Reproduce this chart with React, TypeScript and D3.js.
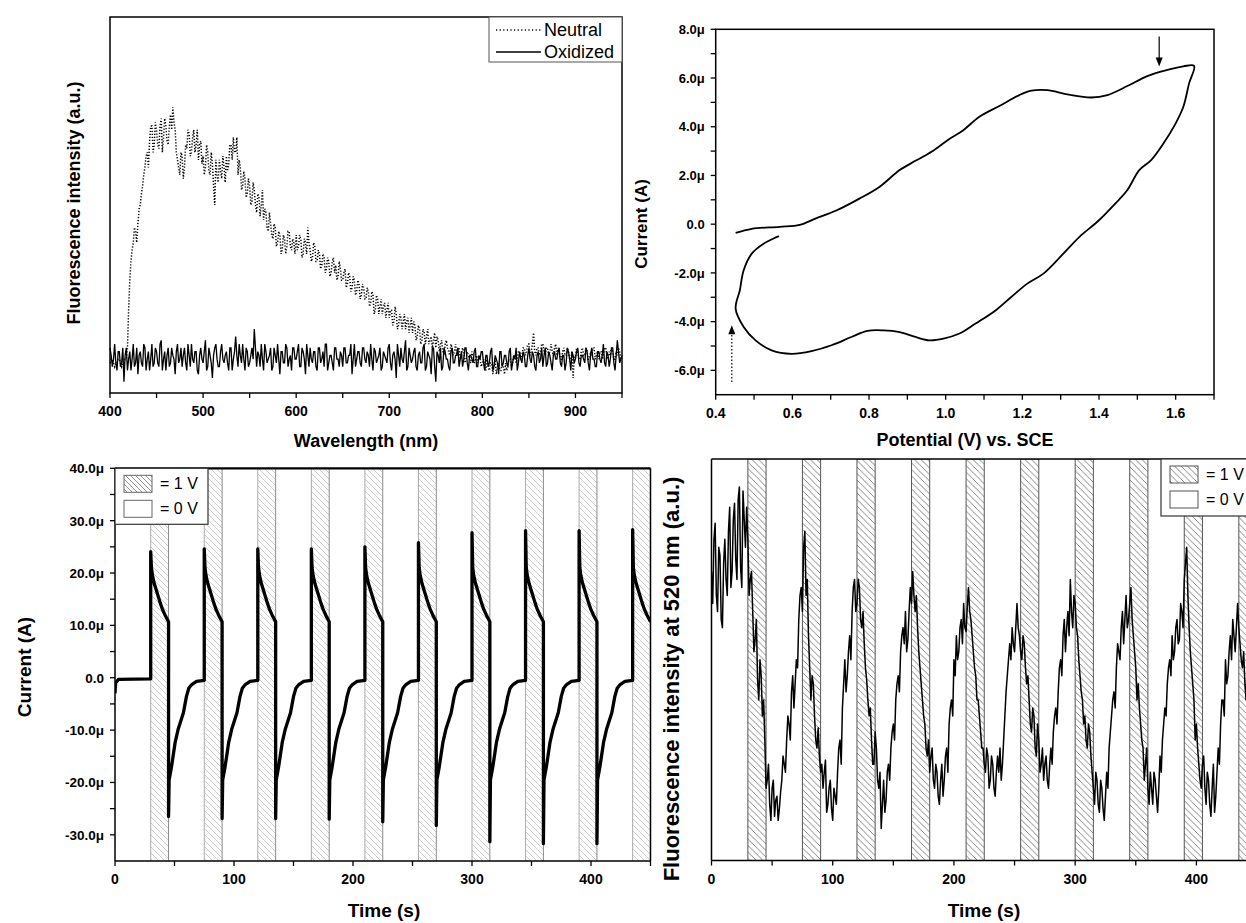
import React from "react";
import * as d3 from "d3";

const FONT = "'Liberation Sans', Arial, Helvetica, sans-serif";

// ---------- Panel A: fluorescence spectra (values at 400, 402.5, ...; B arrays at 401.25, 403.75, ...) ----------
const wlStart = 400;
const wlStep = 1.25;
const neutral = [
  8, 9, 7, 8, 9, 7, 8, 9, 22, 35,
  40, 43, 45, 50, 55, 60, 64, 67, 71, 66,
  70, 65, 73, 68, 71, 66, 74, 76, 70, 62,
  58, 63, 60, 65, 69, 64, 70, 66, 62, 67,
  63, 60, 64, 58, 61, 50, 58, 62, 57, 60,
  63, 61, 66, 68, 64, 58, 60, 55, 57, 53,
  55, 51, 54, 48, 52, 50, 46, 48, 43, 45,
  41, 44, 40, 42, 38, 41, 39, 43, 38, 40,
  42, 39, 41, 37, 40, 44, 38, 36, 39, 35,
  37, 34, 36, 33, 35, 32, 36, 34, 31, 33,
  30, 33, 29, 31, 28, 30, 27, 29, 26, 28,
  25, 27, 24, 26, 22, 25, 23, 21, 24, 22,
  20, 22, 19, 21, 18, 20, 19, 17, 20, 18,
  16, 18, 15, 17, 14, 16, 15, 13, 15, 14,
  12, 14, 13, 11, 13, 12, 10, 12, 11, 10,
  12, 10, 11, 9, 10, 8, 10, 9, 8, 9,
  8, 7, 9, 6, 8, 7, 5, 8, 6, 7,
  8, 7, 9, 8, 10, 9, 11, 10, 12, 11,
  13, 11, 16, 10, 12, 11, 13, 10, 12, 11,
  11, 12, 10, 11, 9, 12, 10, 11, 9, 4,
  10, 11, 9, 12, 10, 11, 9, 10, 12, 10,
  9, 11, 10, 12, 9, 10, 11, 9, 10, 11,
  10,
];
const neutralB = [
  9, 8, 8, 9, 8, 8, 9, 12, 30, 38,
  44, 40, 49, 53, 58, 63, 60, 71, 64, 72,
  66, 71, 64, 73, 67, 71, 70, 72, 64, 60,
  64, 57, 66, 70, 63, 68, 64, 70, 66, 61,
  58, 66, 59, 64, 55, 62, 56, 59, 63, 56,
  59, 66, 62, 64, 68, 62, 54, 59, 52, 57,
  50, 56, 50, 53, 47, 54, 49, 44, 48, 42,
  45, 39, 43, 37, 42, 37, 43, 39, 41, 37,
  38, 42, 36, 41, 37, 40, 35, 40, 35, 38,
  33, 37, 32, 36, 31, 35, 32, 30, 35, 30,
  32, 28, 32, 27, 31, 26, 30, 25, 29, 25,
  28, 23, 27, 21, 26, 21, 25, 23, 20, 24,
  22, 18, 23, 17, 21, 17, 21, 19, 16, 20,
  19, 14, 18, 13, 17, 13, 17, 14, 12, 16,
  15, 11, 14, 10, 14, 11, 13, 10, 13, 12,
  9, 12, 8, 11, 9, 11, 8, 10, 10, 7,
  9, 6, 7, 8, 5, 9, 7, 6, 8, 5,
  6, 9, 7, 10, 8, 11, 9, 12, 10, 13,
  10, 13, 11, 12, 10, 13, 11, 12, 10, 13,
  10, 13, 12, 9, 11, 10, 12, 9, 11, 10,
  12, 9, 11, 10, 12, 9, 11, 12, 9, 11,
  11, 9, 12, 10, 11, 12, 9, 11, 12, 9,
];
const oxidized = [
  12, 7, 13, 6, 11, 8, 3, 12, 9, 6,
  13, 8, 5, 11, 7, 12, 9, 6, 13, 8,
  11, 7, 14, 9, 6, 12, 8, 10, 5, 13,
  9, 7, 12, 6, 10, 13, 8, 11, 5, 12,
  8, 14, 7, 10, 4, 12, 9, 7, 13, 8,
  11, 6, 12, 9, 15, 7, 10, 13, 6, 11,
  8, 12, 17, 7, 10, 13, 6, 11, 9, 12,
  7, 10, 13, 5, 11, 8, 12, 9, 6, 12,
  9, 13, 7, 11, 5, 10, 12, 8, 11, 6,
  12, 9, 7, 13, 8, 10, 6, 12, 9, 11,
  7, 12, 8, 10, 5, 13, 9, 11, 7, 12,
  8, 10, 13, 6, 11, 9, 12, 7, 10, 8,
  13, 6, 11, 4, 10, 12, 8, 14, 7, 10,
  9, 12, 6, 11, 8, 13, 7, 10, 5, 12,
  3, 10, 12, 7, 11, 9, 6, 12, 8, 10,
  7, 11, 9, 12, 6, 10, 8, 12, 7, 9,
  11, 6, 10, 8, 12, 7, 9, 5, 11, 8,
  10, 7, 12, 8, 9, 6, 11, 8, 10, 7,
  12, 8, 10, 6, 11, 9, 7, 12, 8, 10,
  6, 11, 9, 12, 7, 10, 8, 11, 6, 10,
  9, 12, 7, 10, 8, 11, 6, 12, 9, 7,
  11, 8, 13, 7, 10, 9, 12, 6, 14, 8,
  10,
];
const oxidizedB = [
  10, 9, 8, 11, 7, 12, 10, 6, 11, 9,
  7, 12, 10, 8, 13, 6, 11, 9, 7, 12,
  8, 13, 6, 11, 10, 7, 12, 9, 11, 8,
  12, 10, 8, 13, 7, 9, 11, 6, 10, 9,
  11, 6, 12, 8, 10, 13, 7, 11, 9, 10,
  8, 12, 6, 11, 10, 13, 8, 9, 12, 7,
  10, 9, 12, 11, 7, 9, 13, 8, 10, 6,
  12, 8, 9, 11, 8, 13, 7, 10, 12, 9,
  11, 7, 12, 9, 13, 7, 9, 11, 7, 12,
  8, 11, 13, 6, 10, 8, 12, 9, 7, 10,
  12, 8, 10, 13, 9, 7, 11, 8, 12, 9,
  11, 7, 9, 12, 8, 10, 6, 11, 9, 12,
  8, 10, 9, 13, 7, 9, 11, 6, 12, 8,
  11, 7, 10, 8, 12, 6, 11, 9, 12, 7,
  11, 8, 6, 12, 9, 7, 11, 8, 10, 12,
  9, 7, 12, 8, 10, 9, 11, 7, 10, 11,
  8, 10, 7, 11, 6, 10, 8, 11, 7, 10,
  8, 11, 6, 10, 12, 8, 9, 11, 7, 10,
  9, 11, 7, 10, 8, 12, 10, 7, 11, 8,
  10, 9, 11, 8, 10, 6, 12, 9, 11, 8,
  11, 8, 10, 9, 12, 8, 10, 9, 7, 11,
  9, 10, 8, 11, 7, 12, 8, 10, 11, 9,
];
const aXMajor = [400, 500, 600, 700, 800, 900];
const aXMinor = [450, 550, 650, 750, 850, 950];

// ---------- Panel B: cyclic voltammogram ----------
const cvV = [
  0.452, 0.494, 0.567, 0.619, 0.66, 0.713, 0.775, 0.827, 0.88, 0.921, 0.963, 1.005, 1.046, 1.088,
  1.14, 1.192, 1.224, 1.265, 1.317, 1.38, 1.422, 1.474, 1.526, 1.578, 1.62, 1.648,
  1.635, 1.62, 1.6, 1.568, 1.536, 1.505, 1.474, 1.443, 1.4, 1.349, 1.307, 1.255, 1.213, 1.171,
  1.13, 1.078, 1.036, 0.994, 0.958, 0.921, 0.88, 0.838, 0.796, 0.754, 0.702, 0.65, 0.598,
  0.546, 0.504, 0.473, 0.452, 0.463, 0.473, 0.494, 0.525, 0.565,
];
const cvI = [
  -0.36, -0.19, -0.11, -0.03, 0.23, 0.55, 1.05, 1.53, 2.22, 2.6, 2.97, 3.45, 3.86, 4.41,
  4.85, 5.3, 5.48, 5.5, 5.33, 5.2, 5.3, 5.67, 6.08, 6.33, 6.48, 6.5,
  5.78, 4.82, 4.14, 3.31, 2.63, 2.22, 1.4, 0.85, 0.16, -0.52, -1.21, -2.03, -2.44, -2.99,
  -3.54, -4.08, -4.49, -4.7, -4.77, -4.63, -4.43, -4.36, -4.38, -4.63, -4.97, -5.21, -5.32,
  -5.18, -4.77, -4.22, -3.47, -2.71, -1.89, -1.21, -0.8, -0.49,
];
const bXMajor = [0.4, 0.6, 0.8, 1.0, 1.2, 1.4, 1.6];
const bXMinor = [0.5, 0.7, 0.9, 1.1, 1.3, 1.5, 1.7];
const bYMajor = [8, 6, 4, 2, 0, -2, -4, -6];
const bYLabels = ["8.0μ", "6.0μ", "4.0μ", "2.0μ", "0.0", "-2.0μ", "-4.0μ", "-6.0μ"];
const bYMinor = [7, 5, 3, 1, -1, -3, -5];
const arrowDown = { v: 1.557, from: 7.7, to: 6.47 };
const arrowUp = { v: 0.442, from: -6.48, to: -4.15 };

// ---------- Panel C: chronoamperometry ----------
const initT = [0, 0.5, 3, 30];
const initI = [-3, -1, -0.3, -0.2];
const cycleStarts = [30, 75, 120, 165, 210, 255, 300, 345, 390, 435];
const cyclePeaks = [24.1, 24.6, 24.6, 24.6, 25, 25.8, 27.7, 28.1, 28.1, 28.3];
const cycleMins = [-26.5, -26.9, -26.9, -27, -27.5, -28.2, -31.3, -31.7, -31.7];
const oxT = [0.6, 1.5, 3, 5, 8, 10, 12, 15];
const oxI = [21, 19.5, 18, 16.5, 14.3, 13, 12, 10.7];
const redT = [15.5, 17.5, 20.5, 23, 27.5, 30, 32, 34.5, 38.5, 45];
const redI = [-19.5, -17, -12.4, -9.9, -6.7, -3.6, -2, -1.3, -0.7, -0.5];
const bandWidth = 15;
const tMajor = [0, 100, 200, 300, 400];
const tMinor = [50, 150, 250, 350, 450];
const cYMajor = [40, 30, 20, 10, 0, -10, -20, -30];
const cYLabels = ["40.0μ", "30.0μ", "20.0μ", "10.0μ", "0.0", "-10.0μ", "-20.0μ", "-30.0μ"];
const cYMinor = [35, 25, 15, 5, -5, -15, -25];

// ---------- Panel D: fluorescence at 520 nm vs time (even seconds / odd seconds) ----------
const flEven = [
  72, 80, 66, 78, 60, 74, 70, 82, 68, 85,
  75, 90, 73, 92, 78, 80, 70, 62, 55, 45,
  50, 36, 30, 20, 14, 18, 11, 16, 13, 20,
  24, 30, 34, 42, 38, 50, 60, 68, 78, 66,
  56, 40, 44, 30, 33, 22, 18, 25, 14, 20,
  10, 16, 22, 30, 38, 50, 46, 56, 62, 70,
  64, 68, 58, 54, 45, 36, 30, 24, 28, 18,
  8, 20, 15, 24, 28, 34, 40, 46, 52, 58,
  62, 55, 68, 72, 62, 58, 48, 40, 34, 26,
  22, 28, 18, 22, 14, 24, 20, 28, 34, 40,
  50, 56, 52, 60, 64, 57, 68, 60, 52, 46,
  40, 32, 28, 22, 26, 20, 24, 16, 26, 28,
  24, 36, 46, 54, 58, 52, 64, 56, 50, 54,
  44, 40, 32, 36, 26, 30, 24, 20, 26, 18,
  28, 32, 38, 42, 50, 56, 52, 62, 70, 58,
  64, 56, 46, 40, 36, 28, 32, 22, 14, 20,
  12, 18, 10, 22, 28, 36, 42, 48, 52, 58,
  54, 66, 60, 68, 56, 48, 44, 34, 28, 24,
  18, 22, 14, 20, 12, 26, 30, 38, 44, 50,
  56, 52, 60, 55, 62, 70, 78, 58, 48, 40,
  34, 24, 18, 26, 14, 20, 11, 24, 16, 28,
  34, 40, 50, 46, 56, 60, 52, 64, 54, 48,
  44, 50, 38, 32, 36, 30,
];
const flOdd = [
  64, 84, 62, 76, 58, 80, 66, 88, 72, 89,
  70, 93, 68, 85, 88, 66, 72, 52, 60, 40,
  46, 40, 18, 24, 10, 20, 15, 10, 17, 26,
  22, 36, 30, 46, 44, 48, 66, 62, 82, 70,
  48, 46, 36, 28, 26, 24, 22, 12, 18, 13,
  18, 14, 28, 24, 44, 42, 52, 50, 68, 62,
  70, 60, 62, 48, 40, 38, 24, 32, 20, 22,
  14, 12, 22, 20, 32, 30, 44, 42, 56, 54,
  52, 62, 64, 66, 66, 52, 44, 36, 28, 30,
  26, 20, 24, 16, 20, 16, 26, 22, 38, 36,
  46, 50, 58, 54, 58, 63, 62, 56, 48, 40,
  36, 28, 24, 28, 18, 26, 18, 22, 22, 20,
  30, 42, 50, 50, 54, 58, 58, 52, 56, 48,
  46, 34, 38, 28, 34, 22, 28, 24, 20, 24,
  24, 36, 34, 48, 46, 60, 58, 56, 62, 66,
  58, 50, 42, 34, 30, 34, 26, 18, 22, 14,
  20, 13, 16, 18, 32, 40, 38, 54, 50, 62,
  60, 58, 64, 60, 52, 40, 38, 30, 20, 28,
  14, 18, 22, 16, 18, 22, 34, 36, 48, 46,
  50, 58, 54, 64, 58, 74, 66, 52, 44, 30,
  28, 20, 24, 18, 22, 14, 18, 12, 22, 24,
  40, 36, 44, 52, 50, 56, 58, 58, 50, 52,
  40, 44, 34, 38, 33,
];

const legendVolt = ["= 1 V", "= 0 V"];
const legendA = ["Neutral", "Oxidized"];

// ---------- scales ----------
const xA = d3.scaleLinear().domain([400, 950]).range([110, 622]);
const yA = d3.scaleLinear().domain([0, 100]).range([393, 17]);
const xB = d3.scaleLinear().domain([0.4, 1.7]).range([715.7, 1214]);
const yB = d3.scaleLinear().domain([-7, 8]).range([394.7, 29.3]);
const xC = d3.scaleLinear().domain([0, 450]).range([115, 650.5]);
const yC = d3.scaleLinear().domain([-35, 40]).range([861, 468.3]);
const xD = d3.scaleLinear().domain([0, 450]).range([711.5, 1257]);
const yD = d3.scaleLinear().domain([0, 100]).range([860.5, 459]);

type P = [number, number];

function interleave(a: number[], b: number[]): number[] {
  const out: number[] = [];
  a.forEach((v, i) => {
    out.push(v);
    if (i < b.length) out.push(b[i]);
  });
  return out;
}

function buildCurrent(): P[] {
  const pts: P[] = initT.map((t, i) => [t, initI[i]] as P);
  cycleStarts.forEach((s, k) => {
    pts.push([s, cyclePeaks[k]]);
    oxT.forEach((dt, i) => pts.push([s + dt, oxI[i]]));
    if (k < cycleMins.length) {
      pts.push([s + bandWidth, cycleMins[k]]);
      redT.forEach((dt, i) => pts.push([s + dt, redI[i]]));
    }
  });
  return pts;
}

function XTicks({ scale, y, major, minor, labels, fs = 14 }: any) {
  return (
    <g>
      {[...major, ...minor].map((v: number, i: number) => (
        <line key={"t" + i} x1={scale(v)} x2={scale(v)} y1={y} y2={y + 5} stroke="#000" strokeWidth={1.3} />
      ))}
      {major.map((v: number, i: number) => (
        <text key={"l" + i} x={scale(v)} y={y + 23} textAnchor="middle" fontFamily={FONT} fontWeight="bold" fontSize={fs}>
          {labels ? labels[i] : String(v)}
        </text>
      ))}
    </g>
  );
}

function YTicks({ scale, x, major, minor, labels, fs = 14 }: any) {
  return (
    <g>
      {[...major, ...minor].map((v: number, i: number) => (
        <line key={"t" + i} x1={x - 5} x2={x} y1={scale(v)} y2={scale(v)} stroke="#000" strokeWidth={1.3} />
      ))}
      {major.map((v: number, i: number) => (
        <text key={"l" + i} x={x - 11} y={scale(v)} dy="0.36em" textAnchor="end" fontFamily={FONT} fontWeight="bold" fontSize={fs}>
          {labels[i]}
        </text>
      ))}
    </g>
  );
}

function VoltLegend({ x, y, w, h, patternId, swatchStroke }: any) {
  return (
    <g>
      <rect x={x} y={y} width={w} height={h} fill="#fff" stroke="#333" strokeWidth={1.2} />
      <rect x={x + 9} y={y + 7} width={28} height={17} fill={`url(#${patternId})`} stroke={swatchStroke} strokeWidth={1} />
      <rect x={x + 9} y={y + 32} width={28} height={17} fill="#fff" stroke={swatchStroke} strokeWidth={1} />
      {legendVolt.map((t, i) => (
        <text key={t} x={x + 45} y={y + 21 + i * 25} fontFamily={FONT} fontSize={16}>
          {t}
        </text>
      ))}
    </g>
  );
}

export default function App() {
  const neutralAll = interleave(neutral, neutralB);
  const oxidizedAll = interleave(oxidized, oxidizedB);
  const lineA = d3.line<number>().x((_, i) => xA(wlStart + i * wlStep)).y((d) => yA(d));
  const lineB = d3
    .line<number>()
    .x((v) => xB(v))
    .y((_, i) => yB(cvI[i]))
    .curve(d3.curveCatmullRom);
  const currentPts = buildCurrent();
  const lineC = d3.line<P>().x((d) => xC(d[0])).y((d) => yC(d[1]));
  const flAll = interleave(flEven, flOdd);
  const lineD = d3.line<number>().x((_, i) => xD(i)).y((d) => yD(d));

  return (
    <svg width={1246} height={923} style={{ position: "absolute", left: 0, top: 0, background: "#fff" }}>
      <defs>
        <pattern id="hatchC" patternUnits="userSpaceOnUse" width={6} height={6}>
          <path d="M-1,-1 L7,7 M-1,5 L1,7 M5,-1 L7,1" stroke="#c8c8c8" strokeWidth={0.9} />
        </pattern>
        <pattern id="hatchCL" patternUnits="userSpaceOnUse" width={5} height={5}>
          <path d="M-1,-1 L6,6 M-1,4 L1,6 M4,-1 L6,1" stroke="#888" strokeWidth={0.9} />
        </pattern>
        <pattern id="hatchD" patternUnits="userSpaceOnUse" width={6.5} height={6.5}>
          <path d="M-1,-1 L7.5,7.5 M-1,5.5 L1,7.5 M5.5,-1 L7.5,1" stroke="#777" strokeWidth={0.9} />
        </pattern>
        <clipPath id="clipC">
          <rect x={xC(0)} y={yC(40)} width={xC(450) - xC(0)} height={yC(-35) - yC(40)} />
        </clipPath>
        <clipPath id="clipD">
          <rect x={xD(0)} y={yD(100)} width={xD(450) - xD(0)} height={yD(0) - yD(100)} />
        </clipPath>
      </defs>

      {/* ================= Panel A ================= */}
      <path d={lineA(oxidizedAll) || ""} fill="none" stroke="#000" strokeWidth={1.3} />
      <path d={lineA(neutralAll) || ""} fill="none" stroke="#000" strokeWidth={1.5} strokeDasharray="1.2 1.8" />
      <rect x={xA(400)} y={yA(100)} width={xA(950) - xA(400)} height={yA(0) - yA(100)} fill="none" stroke="#000" strokeWidth={1.5} />
      <XTicks scale={xA} y={yA(0)} major={aXMajor} minor={aXMinor} />
      <g>
        <rect x={489} y={yA(100)} width={xA(950) - 489} height={45} fill="#fff" stroke="#555" strokeWidth={1} />
        <line x1={496} x2={541} y1={30} y2={30} stroke="#000" strokeWidth={1.4} strokeDasharray="1.2 2.4" />
        <line x1={496} x2={541} y1={52} y2={52} stroke="#000" strokeWidth={1.4} />
        {legendA.map((t, i) => (
          <text key={t} x={544} y={30 + i * 22} dy="0.36em" fontFamily={FONT} fontSize={18}>
            {t}
          </text>
        ))}
      </g>
      <text x={366} y={447} textAnchor="middle" fontFamily={FONT} fontWeight="bold" fontSize={18}>
        Wavelength (nm)
      </text>
      <text transform="translate(80,203) rotate(-90)" textAnchor="middle" fontFamily={FONT} fontWeight="bold" fontSize={18}>
        Fluorescence intensity (a.u.)
      </text>

      {/* ================= Panel B ================= */}
      <path d={lineB(cvV) || ""} fill="none" stroke="#000" strokeWidth={1.8} />
      <rect x={xB(0.4)} y={yB(8)} width={xB(1.7) - xB(0.4)} height={yB(-7) - yB(8)} fill="none" stroke="#000" strokeWidth={1.5} />
      <XTicks scale={xB} y={yB(-7)} major={bXMajor} minor={bXMinor} labels={bXMajor.map((v) => v.toFixed(1))} />
      <YTicks scale={yB} x={xB(0.4)} major={bYMajor} minor={bYMinor} labels={bYLabels} fs={13} />
      <line x1={xB(arrowDown.v)} x2={xB(arrowDown.v)} y1={yB(arrowDown.from)} y2={yB(arrowDown.to) - 8} stroke="#000" strokeWidth={1.2} />
      <path
        d={`M${xB(arrowDown.v) - 3.5},${yB(arrowDown.to) - 9} L${xB(arrowDown.v) + 3.5},${yB(arrowDown.to) - 9} L${xB(arrowDown.v)},${yB(arrowDown.to)} Z`}
        fill="#000"
      />
      <line x1={xB(arrowUp.v)} x2={xB(arrowUp.v)} y1={yB(arrowUp.from)} y2={yB(arrowUp.to) + 8} stroke="#000" strokeWidth={1.2} strokeDasharray="1.5 2" />
      <path
        d={`M${xB(arrowUp.v) - 3.5},${yB(arrowUp.to) + 9} L${xB(arrowUp.v) + 3.5},${yB(arrowUp.to) + 9} L${xB(arrowUp.v)},${yB(arrowUp.to)} Z`}
        fill="#000"
      />
      <text x={965} y={446} textAnchor="middle" fontFamily={FONT} fontWeight="bold" fontSize={18}>
        Potential (V) vs. SCE
      </text>
      <text transform="translate(647,224) rotate(-90)" textAnchor="middle" fontFamily={FONT} fontWeight="bold" fontSize={17}>
        Current (A)
      </text>

      {/* ================= Panel C ================= */}
      <g clipPath="url(#clipC)">
        {cycleStarts.map((s) => (
          <g key={s}>
            <rect x={xC(s)} y={yC(40)} width={xC(s + bandWidth) - xC(s)} height={yC(-35) - yC(40)} fill="url(#hatchC)" />
            <line x1={xC(s)} x2={xC(s)} y1={yC(40)} y2={yC(-35)} stroke="#aaa" strokeWidth={1} />
            <line x1={xC(s + bandWidth)} x2={xC(s + bandWidth)} y1={yC(40)} y2={yC(-35)} stroke="#8a8a8a" strokeWidth={1} />
          </g>
        ))}
        <path d={lineC(currentPts) || ""} fill="none" stroke="#000" strokeWidth={3.3} strokeLinejoin="round" />
      </g>
      <line x1={xC(0)} x2={xC(0)} y1={yC(40)} y2={yC(-35)} stroke="#000" strokeWidth={1.5} />
      <line x1={xC(0)} x2={xC(450)} y1={yC(-35)} y2={yC(-35)} stroke="#000" strokeWidth={1.5} />
      <line x1={xC(0)} x2={xC(450)} y1={yC(40)} y2={yC(40)} stroke="#000" strokeWidth={2.2} />
      <line x1={xC(450)} x2={xC(450)} y1={yC(40)} y2={yC(-35)} stroke="#000" strokeWidth={1.5} />
      <VoltLegend x={xC(0)} y={yC(40)} w={93} h={56} patternId="hatchCL" swatchStroke="#666" />
      <XTicks scale={xC} y={yC(-35)} major={tMajor} minor={tMinor} />
      <YTicks scale={yC} x={xC(0)} major={cYMajor} minor={cYMinor} labels={cYLabels} fs={13.5} />
      <text x={384} y={917} textAnchor="middle" fontFamily={FONT} fontWeight="bold" fontSize={19}>
        Time (s)
      </text>
      <text transform="translate(31,667) rotate(-90)" textAnchor="middle" fontFamily={FONT} fontWeight="bold" fontSize={19}>
        Current (A)
      </text>

      {/* ================= Panel D ================= */}
      <g clipPath="url(#clipD)">
        {cycleStarts.map((s) => (
          <rect key={s} x={xD(s)} y={yD(100)} width={xD(s + bandWidth) - xD(s)} height={yD(0) - yD(100)} fill="url(#hatchD)" stroke="#555" strokeWidth={1} />
        ))}
        <path d={lineD(flAll) || ""} fill="none" stroke="#000" strokeWidth={1.5} strokeLinejoin="round" />
      </g>
      <line x1={xD(0)} x2={xD(0)} y1={yD(100)} y2={yD(0)} stroke="#000" strokeWidth={1.5} />
      <line x1={xD(0)} x2={xD(450)} y1={yD(0)} y2={yD(0)} stroke="#000" strokeWidth={1.5} />
      <line x1={xD(0)} x2={xD(450)} y1={yD(100)} y2={yD(100)} stroke="#000" strokeWidth={1.5} />
      <VoltLegend x={1161} y={yD(100)} w={110} h={57} patternId="hatchD" swatchStroke="#555" />
      <XTicks scale={xD} y={yD(0)} major={tMajor} minor={tMinor} />
      <text x={984} y={917} textAnchor="middle" fontFamily={FONT} fontWeight="bold" fontSize={19}>
        Time (s)
      </text>
      <text transform="translate(679,679) rotate(-90)" textAnchor="middle" fontFamily={FONT} fontWeight="bold" fontSize={22}>
        Fluorescence intensity at 520 nm (a.u.)
      </text>
    </svg>
  );
}
